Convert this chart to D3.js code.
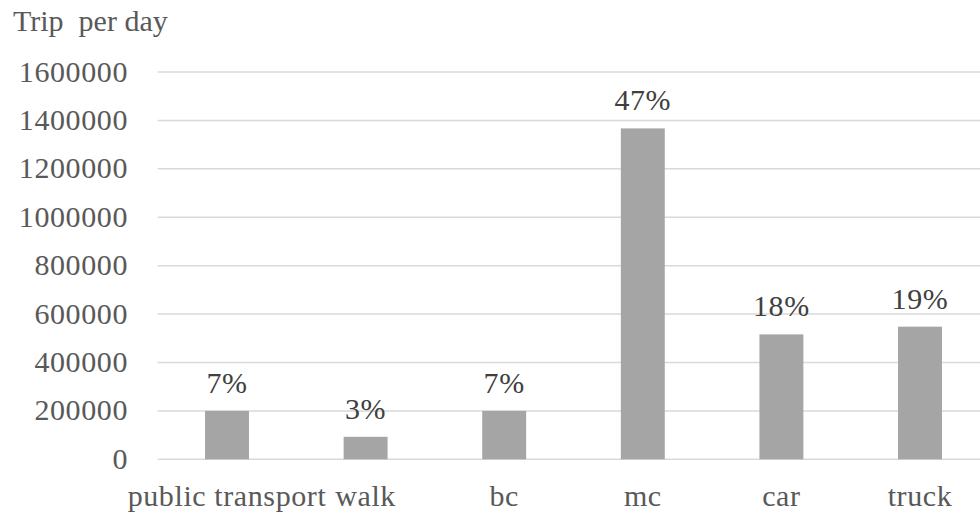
<!DOCTYPE html>
<html>
<head>
<meta charset="utf-8">
<script src="https://cdn.jsdelivr.net/npm/d3@7"></script>
<style>
  html, body { margin: 0; padding: 0; background: #fff; }
  svg { display: block; }
</style>
</head>
<body>
<svg id="chart" width="980" height="516"></svg>
<script>
// Daily trips by travel mode
const categories = ["public transport", "walk", "bc", "mc", "car", "truck"];
const trips = [200000, 93000, 200000, 1367000, 516000, 548000];
const shares = ["7%", "3%", "7%", "47%", "18%", "19%"];
const yTicks = [0, 200000, 400000, 600000, 800000, 1000000, 1200000, 1400000, 1600000];
const yTitle = "Trip  per day";

const svg = d3.select("#chart");
const font = "Liberation Serif";

const plot = { left: 157.7, right: 989.3, top: 72, bottom: 459.3 };

const x = d3.scaleBand()
  .domain(categories)
  .range([plot.left, plot.right])
  .paddingInner(0.683)
  .paddingOuter(0.3415);

const y = d3.scaleLinear()
  .domain([0, 1600000])
  .range([plot.bottom, plot.top]);

function textStyle(sel, color, spacing = "0.6px") {
  sel.style("font-family", font)
    .style("font-size", "30px")
    .style("letter-spacing", spacing)
    .attr("fill", color);
}

// horizontal gridlines
svg.append("g")
  .selectAll("line")
  .data(yTicks)
  .join("line")
  .attr("x1", plot.left)
  .attr("x2", plot.right)
  .attr("y1", d => y(d))
  .attr("y2", d => y(d))
  .attr("stroke", "#d9d9d9")
  .attr("stroke-width", 1.5);

// y axis tick labels
const yAxis = d3.axisLeft(y)
  .tickValues(yTicks)
  .tickFormat(d3.format("d"))
  .tickSize(0)
  .tickPadding(0);

const yg = svg.append("g")
  .attr("transform", "translate(128,0)")
  .call(yAxis);
yg.select(".domain").remove();
yg.selectAll("text")
  .call(textStyle, "#595959")
  .attr("dy", "0.3em");

// x axis category labels
const xAxis = d3.axisBottom(x).tickSize(0).tickPadding(0);
const xg = svg.append("g")
  .attr("transform", `translate(0,${plot.bottom})`)
  .call(xAxis);
xg.select(".domain").remove();
xg.selectAll("text")
  .call(textStyle, "#595959")
  .attr("y", 47)
  .attr("dy", 0);

// bars
const data = categories.map((c, i) => ({ cat: c, v: trips[i], label: shares[i] }));
svg.append("g")
  .selectAll("rect")
  .data(data)
  .join("rect")
  .attr("x", d => x(d.cat))
  .attr("width", x.bandwidth())
  .attr("y", d => y(d.v))
  .attr("height", d => y(0) - y(d.v))
  .attr("fill", "#a5a5a5");

// share labels above bars
svg.append("g")
  .selectAll("text")
  .data(data)
  .join("text")
  .attr("x", d => x(d.cat) + x.bandwidth() / 2)
  .attr("y", d => y(d.v) - 18)
  .attr("text-anchor", "middle")
  .call(textStyle, "#404040")
  .text(d => d.label);

// axis title
svg.append("text")
  .attr("x", 13)
  .attr("y", 31)
  .call(textStyle, "#595959", "0px")
  .style("white-space", "pre")
  .text(yTitle);
</script>
</body>
</html>
